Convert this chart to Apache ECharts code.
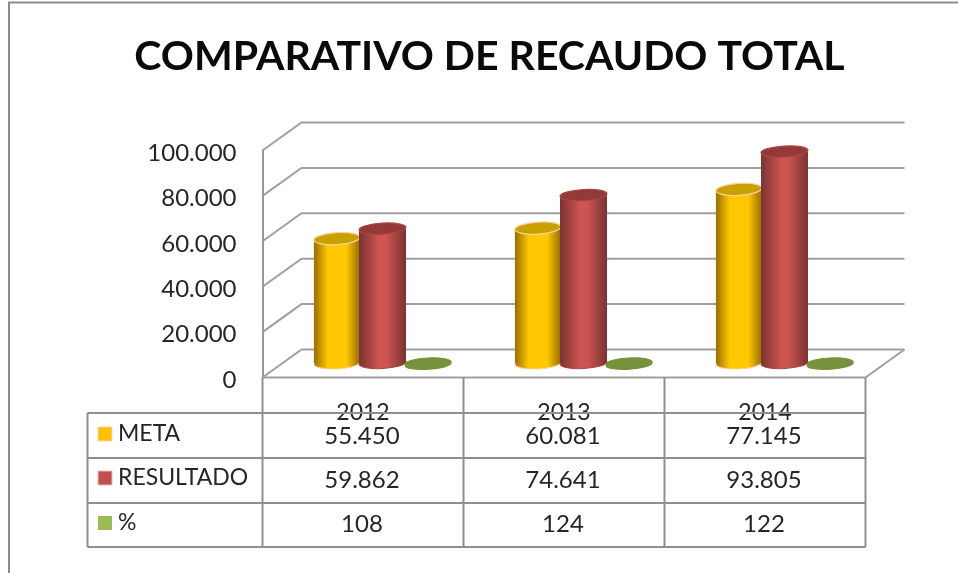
<!DOCTYPE html>
<html><head><meta charset="utf-8">
<style>html,body{margin:0;padding:0;background:#fff}#c{width:958px;height:573px;filter:blur(0.45px)}</style>
<script src="https://cdn.jsdelivr.net/npm/echarts@6/dist/echarts.min.js"></script>
</head><body><div id="c"></div>
<script>
const categories = ['2012','2013','2014'];
const meta = [55450,60081,77145];
const resultado = [59862,74641,93805];
const pct = [108,124,122];
const yTicks = [0,20000,40000,60000,80000,100000];
const seriesNames = ['META','RESULTADO','%'];
const swatchColors = ['#ffc000','#c0504d','#9bbb59'];

const FONT = 'Lato';
const DX = 39, DY = -28;           // depth of the 3D walls
const fmt = v => String(v).replace(/\B(?=(\d{3})+$)/g,'.');
const chart = echarts.init(document.getElementById('c'),null,{renderer:'canvas'});
const G = echarts.graphic;
const grad = (a,b,m)=>new G.LinearGradient(0,0,1,0,[
  {offset:0,color:a},{offset:.03,color:a},{offset:m,color:b},{offset:.5,color:b},{offset:1-m,color:b},{offset:.97,color:a},{offset:1,color:a}]);

function cylinder(slot, body, top, edge, rx, ry){
  return function(params, api){
    const c = api.coord([api.value(0), api.value(1)]);
    const b = api.coord([api.value(0), 0]);
    const x = b[0] + DX/2 + slot*45.6, by = b[1] + DY/2 - 0.5, ty = c[1] + DY/2 + 1;
    return {type:'group', children:[
      {type:'ellipse', x:x, y:by, rotation:0.05, shape:{cx:0,cy:0,rx:rx,ry:ry}, style:{fill:body,stroke:edge,lineWidth:1}},
      {type:'rect', shape:{x:x-rx,y:ty,width:rx*2,height:by-ty}, style:{fill:body}},
      {type:'ellipse', x:x, y:ty, rotation:0.06, shape:{cx:0,cy:0,rx:rx,ry:ry}, style:{fill:top,stroke:edge,lineWidth:1.2}}
    ]};
  };
}
const walls = function(params, api){
  const v = api.value(0), p = api.coord([0,v]), cs = params.coordSys;
  const L = cs.x, R = cs.x+cs.width, y = p[1];
  const st = {stroke:'#a0a0a0',lineWidth:2,fill:null};
  const kids = [{type:'polyline',shape:{points:[[L,y],[L+DX,y+DY],[R+DX,y+DY]]},style:st}];
  if(v===0) kids.push({type:'line',shape:{x1:R,y1:y,x2:R+DX,y2:y+DY},style:st},
                      {type:'line',shape:{x1:L,y1:y,x2:R,y2:y},style:{stroke:'#a0a0a0',lineWidth:2}});
  return {type:'group',children:kids};
};
const rows = [meta,resultado,pct];
const T = {l:87.5, c:[262.5,463.5,664.5,865.5], y:[413,458,503,547], top:377.5};
const line = (x1,y1,x2,y2)=>({type:'line',shape:{x1,y1,x2,y2},style:{stroke:'#8f8f8f',lineWidth:2},z:3});
const txt = (t,x,y,align,size,fill)=>({type:'text',x,y,style:{text:t,x:0,y:0,align,verticalAlign:'middle',font:`${size}px ${FONT}`,fill:fill||'#262626'},z:4});
const g = [];
g.push({type:'polyline',shape:{points:[[9,573],[9,2.5],[958,2.5]]},style:{stroke:'#8c8c8c',lineWidth:2,fill:null},z:1});
g.push(line(T.l,T.y[0],T.c[3],T.y[0]),line(T.l,T.y[1],T.c[3],T.y[1]),line(T.l,T.y[2],T.c[3],T.y[2]),line(T.l,T.y[3],T.c[3],T.y[3]));
g.push(line(T.l,T.y[0],T.l,T.y[3]));
T.c.forEach(x=>g.push(line(x,T.top,x,T.y[3])));
const rowY=[436,480,524], labY=[434,478,523];
seriesNames.forEach((n,i)=>{
  g.push({type:'rect',shape:{x:98,y:labY[i]-7,width:14,height:14},style:{fill:swatchColors[i],stroke:i===0?'#fdd5b0':'#e6b8b7',lineWidth:i===2?0:1},z:4});
  g.push(txt(n,118,labY[i],'left',23));
  rows[i].forEach((v,j)=>g.push(txt(fmt(v),(T.c[j]+T.c[j+1])/2-1,rowY[i],'center',24)));
});

chart.setOption({
  animation:false,
  backgroundColor:'#fff',
  title:{text:'COMPARATIVO DE RECAUDO TOTAL',left:484.5,top:31,textAlign:'center',
    textStyle:{fontFamily:FONT,fontWeight:'bold',fontSize:41,color:'#0a0a0a'}},
  grid:{left:262.5,top:150.5,width:603,height:227},
  xAxis:{type:'category',data:categories,
    axisLine:{show:false},axisTick:{show:false},
    axisLabel:{margin:24,fontFamily:FONT,fontSize:23,color:'#262626'}},
  yAxis:{type:'value',min:0,max:100000,interval:20000,
    axisLine:{show:true,lineStyle:{color:'#969696',width:2}},axisTick:{show:false},splitLine:{show:false},
    axisLabel:{margin:26,formatter:v=>'{n|'+fmt(v)+'}',
      rich:{n:{fontFamily:FONT,fontSize:24,color:'#262626',padding:[5,0,0,0]}}}},
  graphic:g,
  series:[
    {type:'custom',name:'walls',z:1,clip:false,silent:true,renderItem:walls,encode:{y:0},data:yTicks.map(v=>[v])},
    {type:'custom',name:seriesNames[0],z:2,renderItem:cylinder(-1,grad('#a07600','#ffc800',.3),'#c9a000','#fdd0a0',23,6),encode:{x:0,y:1},data:meta.map((v,i)=>[i,v])},
    {type:'custom',name:seriesNames[1],z:3,renderItem:cylinder(0,grad('#7f3533','#cc5451',.42),'#933a38','#a84644',23.5,5.5),encode:{x:0,y:1},data:resultado.map((v,i)=>[i,v])},
    {type:'custom',name:seriesNames[2],z:3,renderItem:cylinder(1,'#76923c','#76923c','#76923c',23,5),encode:{x:0,y:1},data:pct.map((v,i)=>[i,v])}
  ]
});
</script></body></html>
